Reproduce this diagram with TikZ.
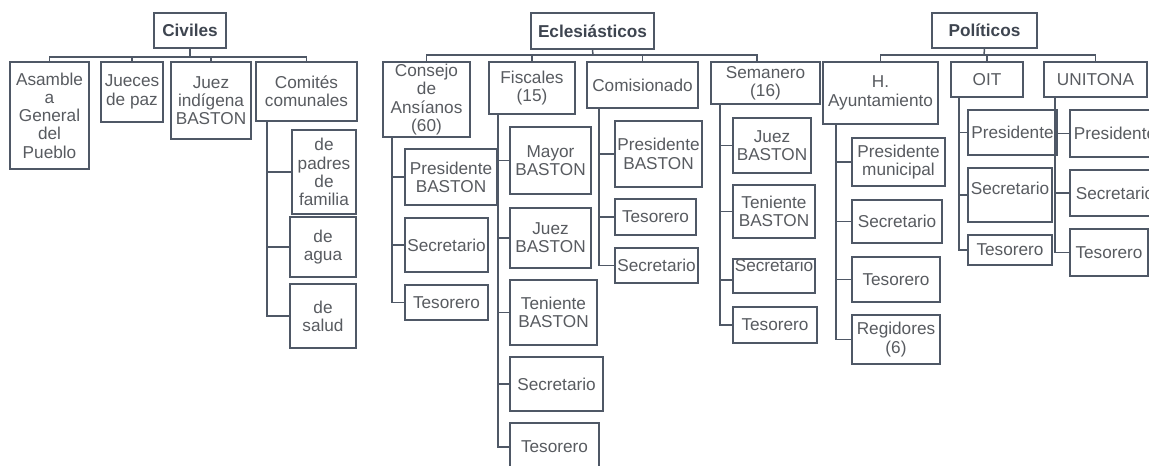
\documentclass[tikz,border=0pt]{standalone}
\usepackage{fontspec}
\setmainfont{Liberation Sans}
\definecolor{ln}{HTML}{4F5866}
\definecolor{txt}{HTML}{585B60}
\definecolor{ttl}{HTML}{3E4550}
\begin{document}
\begin{tikzpicture}[x=1pt,y=-1pt,
  box/.style={draw=ln, line width=1.5pt, fill=white, inner sep=0pt, align=center, text=txt,
              font=\fontsize{17.2}{18.3}\selectfont},
  title/.style={box, text=ttl, font=\bfseries\fontsize{17.2}{18.3}\selectfont},
  conn/.style={draw=ln, line width=1.5pt}]
\fill[white] (0,0) rectangle (1149,466);
\useasboundingbox (0,0) rectangle (1149,466);

% ---------------- Civiles ----------------
\node[title, minimum width=72, minimum height=35] (civ) at (190,30.5) {Civiles};
\node[box, minimum width=79, minimum height=107] (asam) at (49.5,115.5) {Asamble\\a\\General\\del\\Pueblo};
\node[box, minimum width=62, minimum height=60] (jue) at (132,92) {Jueces\\de paz};
\node[box, minimum width=80, minimum height=77] (juez) at (211,100.5) {Juez\\indígena\\BASTON};
\node[box, minimum width=101, minimum height=59] (com) at (306.5,91.5) {Comités\\comunales};
\node[box, minimum width=64, minimum height=84] (pad) at (324,172) {de\\padres\\de\\familia};
\node[box, minimum width=66, minimum height=60] (agua) at (323,247) {de\\agua};
\node[box, minimum width=66, minimum height=64] (sal) at (323,316) {de\\salud};

\coordinate (civB) at (190,57);
\draw[conn] (civ.south) -- (civB);
\foreach \c in {asam,jue,juez,com} \draw[conn] (civB) -| (\c.north);
\coordinate (comT) at (267,121);
\foreach \c in {pad,agua,sal} \draw[conn] (comT) |- (\c.west);

% ---------------- Eclesiasticos ----------------
\node[title, minimum width=123, minimum height=36] (ecl) at (592.5,31) {Eclesiásticos};
\node[box, minimum width=87, minimum height=75] (cons) at (426.5,99.5) {Consejo\\de\\Ansíanos\\(60)};
\node[box, minimum width=86, minimum height=52] (fis) at (532,88) {Fiscales\\(15)};
\node[box, minimum width=111, minimum height=46] (comi) at (642.5,85) {Comisionado};
\node[box, minimum width=109, minimum height=42] (sem) at (765.5,83) {Semanero\\(16)};

\coordinate (eclB) at (593,55);
\coordinate (semD) at (757,62);
\draw[conn] (ecl.south) -- (eclB);
\foreach \c in {cons,fis,comi} \draw[conn] (eclB) -| (\c.north);
\draw[conn] (eclB) -| (semD);

% Consejo children
\node[box, minimum width=92, minimum height=56] (cp) at (451,177) {Presidente\\BASTON};
\node[box, minimum width=83, minimum height=54] (cs) at (446.5,245) {Secretario};
\node[box, minimum width=83, minimum height=35] (ct) at (446.5,302.5) {Tesorero};
\coordinate (consT) at (392,137);
\foreach \c in {cp,cs,ct} \draw[conn] (consT) |- (\c.west);

% Fiscales children
\node[box, minimum width=81, minimum height=67] (fm) at (550.5,160.5) {Mayor\\BASTON};
\node[box, minimum width=81, minimum height=60] (fj) at (550.5,238) {Juez\\BASTON};
\node[box, minimum width=87, minimum height=65] (ft) at (553.5,312.5) {Teniente\\BASTON};
\node[box, minimum width=93, minimum height=54] (fs) at (556.5,384) {Secretario};
\node[box, minimum width=89, minimum height=48] (fte) at (554.5,447) {Tesorero};
\coordinate (fisT) at (498,114);
\foreach \c in {fm,fj,ft,fs,fte} \draw[conn] (fisT) |- (\c.west);

% Comisionado children
\node[box, minimum width=87, minimum height=66] (kp) at (658.5,154) {Presidente\\BASTON};
\node[box, minimum width=81, minimum height=36] (kt) at (655.5,217) {Tesorero};
\node[box, minimum width=83, minimum height=35] (ks) at (656.5,265.5) {Secretario};
\coordinate (comiT) at (599,108);
\foreach \c in {kp,kt,ks} \draw[conn] (comiT) |- (\c.west);

% Semanero children
\node[box, minimum width=78, minimum height=55] (sj) at (772,145.5) {Juez\\BASTON};
\node[box, minimum width=82, minimum height=53] (st) at (774,211.5) {Teniente\\BASTON};
\node[box, minimum width=82, minimum height=34, text height=12, text depth=22] (ss) at (774,276) {Secretario};
\node[box, minimum width=84, minimum height=36] (stt) at (775,325) {Tesorero};
\coordinate (semT) at (720,104);
\draw[conn] (semT) |- (sj.west);
\draw[conn] (semT) |- (st.west);
\draw[conn] (semT) |- ([yshift=-4pt]ss.west);
\draw[conn] (semT) |- (stt.west);

% ---------------- Politicos ----------------
\node[title, minimum width=105, minimum height=35] (pol) at (984.5,30.5) {Políticos};
\node[box, minimum width=115, minimum height=62] (ayu) at (880.5,93) {H.\\Ayuntamiento};
\node[box, minimum width=72, minimum height=35] (oit) at (987,79.5) {OIT};
\node[box, minimum width=103, minimum height=35] (uni) at (1095.5,79.5) {UNITONA};

\coordinate (polB) at (984,55);
\draw[conn] (pol.south) -- (polB);
\foreach \c in {ayu,oit,uni} \draw[conn] (polB) -| (\c.north);

% Ayuntamiento children
\node[box, minimum width=93, minimum height=48] (ap) at (898.5,162) {Presidente\\municipal};
\node[box, minimum width=90, minimum height=43] (as) at (897,221.5) {Secretario};
\node[box, minimum width=88, minimum height=45] (at) at (896,279.5) {Tesorero};
\node[box, minimum width=88, minimum height=49] (ar) at (896,339.5) {Regidores\\(6)};
\coordinate (ayuT) at (836,124);
\foreach \c in {ap,as,at,ar} \draw[conn] (ayuT) |- (\c.west);

% OIT children
\node[box, minimum width=89, minimum height=45] (op) at (1012.5,132.5) {Presidente};
\node[box, minimum width=84, minimum height=54, text height=12, text depth=14] (os) at (1010,195) {Secretario};
\node[box, minimum width=84, minimum height=30] (ot) at (1010,250) {Tesorero};
\coordinate (oitT) at (959,97);
\foreach \c in {op,os,ot} \draw[conn] (oitT) |- (\c.west);

% UNITONA children
\node[box, minimum width=90, minimum height=47] (up) at (1115,133.5) {Presidente};
\node[box, minimum width=90, minimum height=46] (us) at (1115,193) {Secretario};
\node[box, minimum width=78, minimum height=47] (ut) at (1109,252.5) {Tesorero};
\coordinate (uniT) at (1055,97);
\foreach \c in {up,us,ut} \draw[conn] (uniT) |- (\c.west);
\end{tikzpicture}
\end{document}
